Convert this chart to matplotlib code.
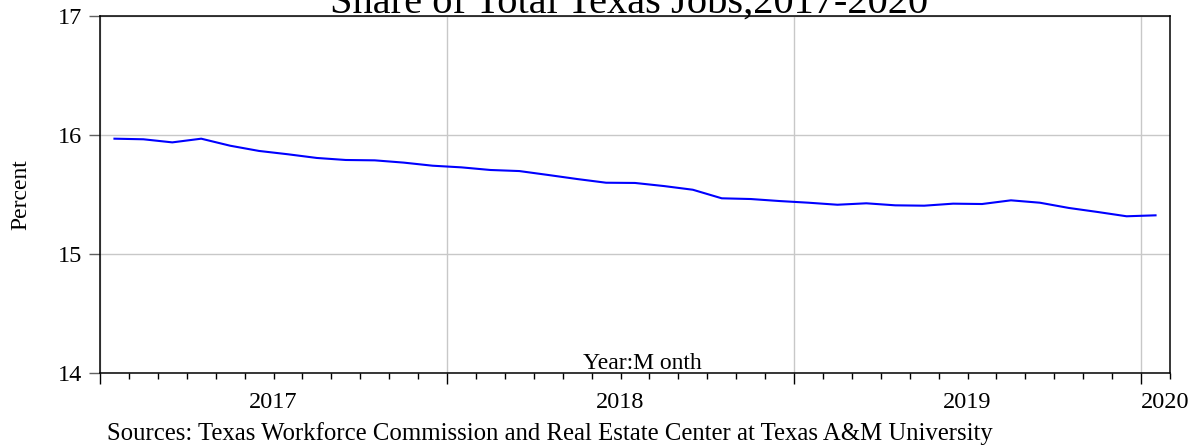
import numpy as np
import matplotlib
matplotlib.use("Agg")
import matplotlib.pyplot as plt
import matplotlib.transforms as mtransforms

plt.rcParams["font.family"] = ["Liberation Serif", "DejaVu Serif"]

# monthly share of total Texas jobs, Jan 2017 .. Jan 2020
start_year = 2017
share_pct = [
    15.969, 15.964, 15.938, 15.969, 15.910, 15.866, 15.838, 15.807,
    15.790, 15.787, 15.768, 15.742,
    15.728, 15.706, 15.697, 15.664, 15.630, 15.599, 15.597, 15.571,
    15.540, 15.468, 15.462, 15.445,
    15.431, 15.414, 15.426, 15.409, 15.406, 15.423, 15.420, 15.451,
    15.431, 15.387, 15.353, 15.317,
    15.325,
]
year_labels = ["2017", "2018", "2019", "2020"]
y_ticks = [14, 15, 16, 17]

title = "Share of Total Texas Jobs,2017-2020"
source = "Sources: Texas Workforce Commission and Real Estate Center at Texas A&M University"

n = len(share_pct)
x = start_year + (np.arange(n) + 0.5) / 12.0
x_lo, x_hi = start_year, start_year + n / 12.0

fig = plt.figure(figsize=(11.94, 4.47), dpi=100)
ax = fig.add_axes([100 / 1194, 74 / 447, 1070 / 1194, 357 / 447])

ax.plot(x, share_pct, color="#0000ff", lw=1.5, zorder=3)

ax.set_xlim(x_lo, x_hi)
ax.set_ylim(14, 17)
ax.set_yticks(y_ticks)
ax.set_yticklabels([str(v) for v in y_ticks])

years = np.arange(start_year, int(x_hi) + 1)
ax.set_xticks(years)
ax.set_xticklabels([])
ax.set_xticks(np.arange(x_lo, x_hi + 1e-9, 1 / 12.0), minor=True)

ax.grid(True, which="major", color="#c8c8c8", lw=1.0)
ax.set_axisbelow(True)

for s in ax.spines.values():
    s.set_linewidth(1.1)
    s.set_color("black")

ax.tick_params(axis="y", direction="out", length=8, width=1, color="#606060",
               labelsize=17.5, pad=5)
ax.tick_params(axis="x", which="major", direction="out", length=8, width=1)
ax.tick_params(axis="x", which="minor", direction="out", length=4.3, width=1)

# year labels centred in each year span on the axis
trans = mtransforms.blended_transform_factory(ax.transData, ax.transAxes)
for yr, lab in zip(years, year_labels):
    lo, hi = max(yr, x_lo), min(yr + 1, x_hi)
    if hi - lo >= 1:
        ax.text((lo + hi) / 2, -0.098, lab, transform=trans, ha="center",
                va="baseline", fontsize=17.5)
    else:
        ax.text(lo, -0.098, lab, transform=trans, ha="left",
                va="baseline", fontsize=17.5)

ax.text(0.507, 0.012, "Year:M onth", transform=ax.transAxes, ha="center",
        va="baseline", fontsize=17)
ax.set_ylabel("Percent", fontsize=17, labelpad=19)

fig.text(0.527, 1 - 13 / 447, title, ha="center", va="baseline", fontsize=29.2)
fig.text(107 / 1194, 1 - 440 / 447, source, ha="left", va="baseline",
         fontsize=17.8)

fig.savefig("out.png", dpi=100)
